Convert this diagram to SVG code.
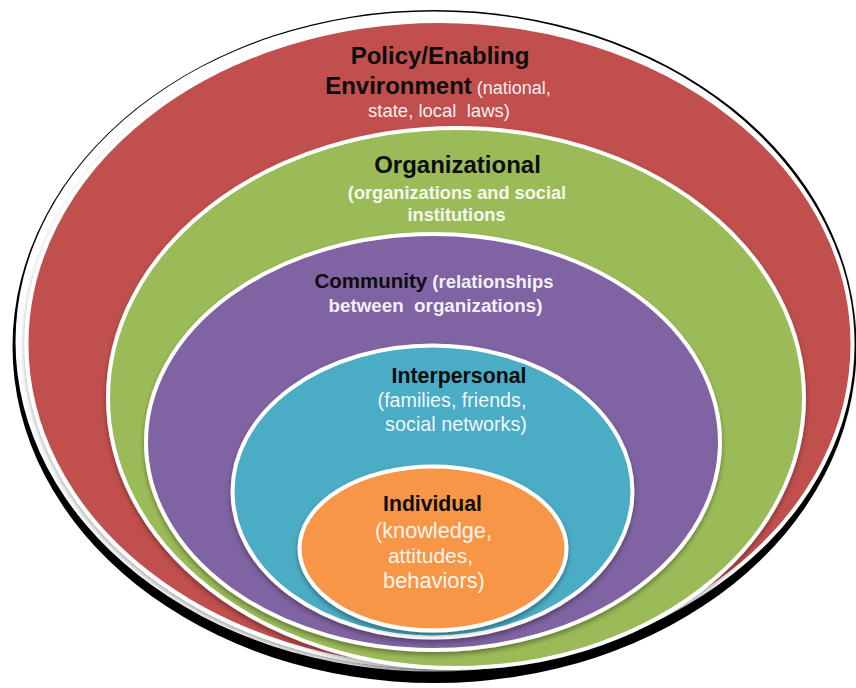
<svg xmlns="http://www.w3.org/2000/svg" width="856" height="688" viewBox="0 0 856 688">
  <style>
    .ring { stroke: #ffffff; stroke-width: 4; filter: url(#shadow); }
    .lbl { font-family: "Liberation Sans", Arial, sans-serif; font-weight: bold; fill: #0d0d0d; text-anchor: middle; }
    .sub { font-family: "Liberation Sans", Arial, sans-serif; fill: #ffffff; fill-opacity: 0.93; text-anchor: middle; white-space: pre; }
    .b { font-weight: bold; }
  </style>
  <defs>
    <filter id="shadow" x="-10%" y="-10%" width="120%" height="125%">
      <feDropShadow dx="0" dy="3" stdDeviation="2.5" flood-color="#000000" flood-opacity="0.35"/>
    </filter>
  </defs>
  <rect width="856" height="688" fill="#ffffff"/>

  <g id="frame">
    <ellipse cx="434.5" cy="346.5" rx="422" ry="336.5" fill="#000000"/>
    <ellipse cx="433.5" cy="341.5" rx="418" ry="330" fill="#ffffff"/>
  </g>

  <g id="policy">
    <ellipse class="ring" cx="439.5" cy="344" rx="413" ry="323" fill="#C0504D"/>
    <text class="lbl" x="440" y="64" font-size="24">Policy/Enabling</text>
    <text x="438" y="94" text-anchor="middle"><tspan class="lbl" font-size="24">Environment</tspan><tspan class="sub" font-size="18"> (national,</tspan></text>
    <text class="sub" x="439" y="117" font-size="18.5">state, local  laws)</text>
  </g>

  <g id="organizational">
    <ellipse class="ring" cx="456" cy="398" rx="348" ry="270" fill="#9BBB59"/>
    <text class="lbl" x="457.5" y="173" font-size="24">Organizational</text>
    <text class="sub b" x="457" y="199" font-size="18.2">(organizations and social</text>
    <text class="sub b" x="456.5" y="221" font-size="18.2">institutions</text>
  </g>

  <g id="community">
    <ellipse class="ring" cx="433" cy="442" rx="287" ry="208" fill="#8064A2"/>
    <text x="434" y="288" text-anchor="middle"><tspan class="lbl" font-size="20.5">Community</tspan><tspan class="sub b" font-size="18.5"> (relationships</tspan></text>
    <text class="sub b" x="435.5" y="312" font-size="18.8">between  organizations)</text>
  </g>

  <g id="interpersonal">
    <ellipse class="ring" cx="432.5" cy="491.5" rx="200" ry="146" fill="#4BACC6"/>
    <text class="lbl" x="459" y="383" font-size="21.3">Interpersonal</text>
    <text class="sub" x="452" y="407" font-size="19.7">(families, friends,</text>
    <text class="sub" x="456" y="431" font-size="19.8">social networks)</text>
  </g>

  <g id="individual">
    <ellipse class="ring" cx="433" cy="548.5" rx="133.5" ry="82" fill="#F79646"/>
    <text class="lbl" x="432.5" y="511" font-size="21.2">Individual</text>
    <text class="sub" x="433.5" y="538" font-size="21.7">(knowledge,</text>
    <text class="sub" x="430.5" y="563" font-size="21">attitudes,</text>
    <text class="sub" x="434" y="588" font-size="21.8">behaviors)</text>
  </g>

  <g id="connectors"/>
</svg>
